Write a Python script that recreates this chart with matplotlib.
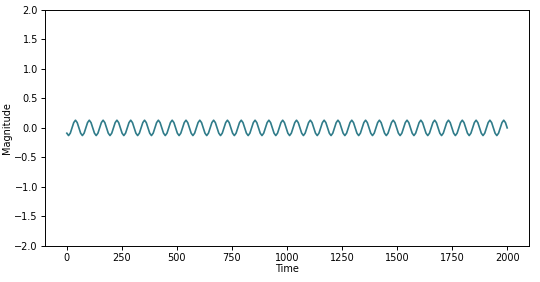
import numpy as np
import matplotlib
matplotlib.use("Agg")
import matplotlib.pyplot as plt

# sampled magnitude readings, 8 per cycle (about 32 cycles over 0..2000)
magnitude = [
    -0.09, -0.13, -0.09, 0.0, 0.09, 0.13, 0.09, 0.0,
    -0.09, -0.13, -0.09, 0.0, 0.09, 0.13, 0.09, 0.0,
    -0.09, -0.13, -0.09, 0.0, 0.09, 0.13, 0.09, 0.0,
    -0.09, -0.13, -0.09, 0.0, 0.09, 0.13, 0.09, 0.0,
    -0.09, -0.13, -0.09, 0.0, 0.09, 0.13, 0.09, 0.0,
    -0.09, -0.13, -0.09, 0.0, 0.09, 0.13, 0.09, 0.0,
    -0.09, -0.13, -0.09, 0.0, 0.09, 0.13, 0.09, 0.0,
    -0.09, -0.13, -0.09, 0.0, 0.09, 0.13, 0.09, 0.0,
    -0.09, -0.13, -0.09, 0.0, 0.09, 0.13, 0.09, 0.0,
    -0.09, -0.13, -0.09, 0.0, 0.09, 0.13, 0.09, 0.0,
    -0.09, -0.13, -0.09, 0.0, 0.09, 0.13, 0.09, 0.0,
    -0.09, -0.13, -0.09, 0.0, 0.09, 0.13, 0.09, 0.0,
    -0.09, -0.13, -0.09, 0.0, 0.09, 0.13, 0.09, 0.0,
    -0.09, -0.13, -0.09, 0.0, 0.09, 0.13, 0.09, 0.0,
    -0.09, -0.13, -0.09, 0.0, 0.09, 0.13, 0.09, 0.0,
    -0.09, -0.13, -0.09, 0.0, 0.09, 0.13, 0.09, 0.0,
    -0.09, -0.13, -0.09, 0.0, 0.09, 0.13, 0.09, 0.0,
    -0.09, -0.13, -0.09, 0.0, 0.09, 0.13, 0.09, 0.0,
    -0.09, -0.13, -0.09, 0.0, 0.09, 0.13, 0.09, 0.0,
    -0.09, -0.13, -0.09, 0.0, 0.09, 0.13, 0.09, 0.0,
    -0.09, -0.13, -0.09, 0.0, 0.09, 0.13, 0.09, 0.0,
    -0.09, -0.13, -0.09, 0.0, 0.09, 0.13, 0.09, 0.0,
    -0.09, -0.13, -0.09, 0.0, 0.09, 0.13, 0.09, 0.0,
    -0.09, -0.13, -0.09, 0.0, 0.09, 0.13, 0.09, 0.0,
    -0.09, -0.13, -0.09, 0.0, 0.09, 0.13, 0.09, 0.0,
    -0.09, -0.13, -0.09, 0.0, 0.09, 0.13, 0.09, 0.0,
    -0.09, -0.13, -0.09, 0.0, 0.09, 0.13, 0.09, 0.0,
    -0.09, -0.13, -0.09, 0.0, 0.09, 0.13, 0.09, 0.0,
    -0.09, -0.13, -0.09, 0.0, 0.09, 0.13, 0.09, 0.0,
    -0.09, -0.13, -0.09, 0.0, 0.09, 0.13, 0.09, 0.0,
    -0.09, -0.13, -0.09, 0.0, 0.09, 0.13, 0.09, 0.0,
    -0.09, -0.13, -0.09, 0.0, 0.09, 0.13, 0.09, 0.0,
]
time = np.linspace(0, 2000, len(magnitude))

fig = plt.figure(figsize=(5.4, 2.82), dpi=100)
ax = fig.add_axes([0.083, 0.128, 0.897, 0.837])
ax.plot(time, magnitude, color="#307c8a", lw=1.2)
ax.set_ylim(-2, 2)
ax.set_xlim(-100, 2100)
ax.set_xticks([0, 250, 500, 750, 1000, 1250, 1500, 1750, 2000])
ax.set_yticks([-2.0, -1.5, -1.0, -0.5, 0.0, 0.5, 1.0, 1.5, 2.0])
ax.tick_params(labelsize=7, length=3, width=0.7, pad=2)
for s in ax.spines.values():
    s.set_linewidth(0.7)
ax.set_xlabel("Time", fontsize=7, labelpad=1)
ax.set_ylabel("Magnitude", fontsize=7, labelpad=2)

fig.savefig("out.png", dpi=100)
